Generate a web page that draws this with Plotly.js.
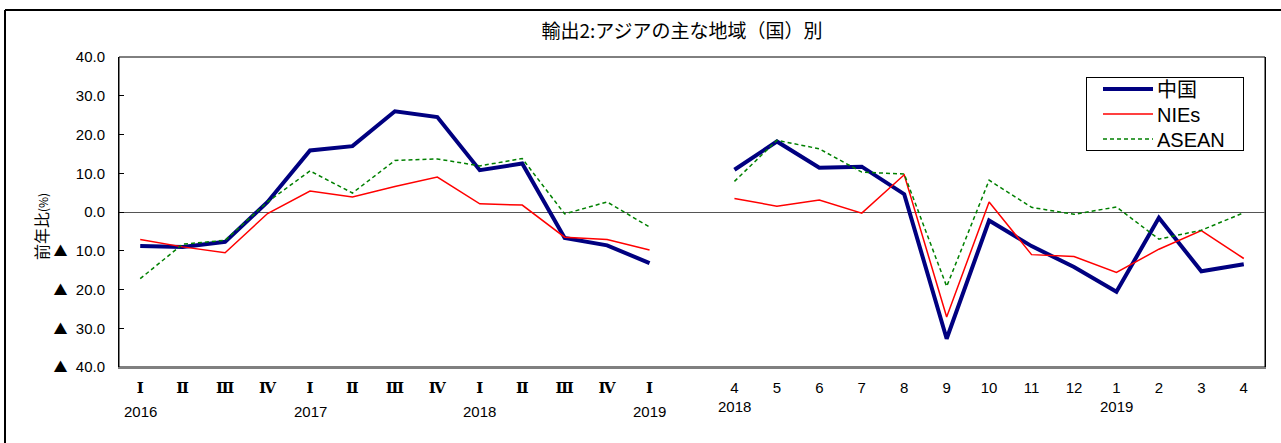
<!DOCTYPE html>
<html>
<head>
<meta charset="utf-8">
<script src="https://cdn.plot.ly/plotly-3.0.1.min.js"></script>
<style>html,body{margin:0;padding:0;background:#fff;}#chart{width:1281px;height:443px;}</style>
</head>
<body>
<div id="chart"></div>
<script>
// ---- data ----
const quarterLabels = ['Ⅰ','Ⅱ','Ⅲ','Ⅳ','Ⅰ','Ⅱ','Ⅲ','Ⅳ','Ⅰ','Ⅱ','Ⅲ','Ⅳ','Ⅰ'];
const quarterYears = {0:'2016', 4:'2017', 8:'2018', 12:'2019'};
const monthLabels = ['4','5','6','7','8','9','10','11','12','1','2','3','4'];
const monthYears = {0:'2018', 9:'2019'};

const chinaQ = [-8.8, -9.0, -7.7, 2.6, 15.9, 17.0, 26.0, 24.5, 10.8, 12.5, -6.7, -8.6, -13.2];
const niesQ  = [-7.1, -9.0, -10.5, -0.4, 5.4, 3.9, 6.6, 9.0, 2.1, 1.8, -6.5, -7.1, -9.8];
const aseanQ = [-17.2, -8.3, -7.3, 2.6, 10.6, 4.9, 13.3, 13.7, 11.9, 13.8, -0.5, 2.6, -3.9];

const chinaM = [10.9, 18.2, 11.4, 11.7, 4.6, -32.7, -2.2, -8.8, -14.2, -20.6, -1.5, -15.3, -13.5];
const niesM  = [3.5, 1.5, 3.1, -0.3, 9.6, -27.1, 2.6, -11.0, -11.5, -15.6, -9.6, -4.8, -12.0];
const aseanM = [7.9, 18.5, 16.3, 10.3, 9.8, -19.2, 8.2, 1.2, -0.6, 1.3, -7.0, -4.7, -0.2];

const seriesNames = ['中国', 'NIEs', 'ASEAN'];
const yTickVals = [40, 30, 20, 10, 0, -10, -20, -30, -40];
const yTickNums = ['40.0', '30.0', '20.0', '10.0', '0.0', '10.0', '20.0', '30.0', '40.0'];
const negMark = '▲';

const titleText = '輸出2:アジアの主な地域（国）別';
const yTitleText = '前年比<span style="font-size:12px">(%)</span>';

// ---- build ----
const nQ = quarterLabels.length;
const gap = 1;
const xQ = quarterLabels.map((_, i) => i);
const xM = monthLabels.map((_, i) => nQ + gap + i);
const allX = xQ.concat([nQ]).concat(xM);
function join(q, m) { return q.concat([null]).concat(m); }

const tickVals = xQ.concat(xM);
const tickText = quarterLabels.map(t => '<span style="font-family:DejaVu Serif;font-weight:bold">' + t + '</span>').concat(monthLabels);
const yTickText = yTickVals.map((v, i) => v < 0
  ? '<span style="font-family:Noto Sans CJK JP;font-size:14px">' + negMark + '</span>\u00a0 ' + yTickNums[i]
  : yTickNums[i]);

const FONT = 'Liberation Sans, Arial, Noto Sans CJK JP, sans-serif';
const CJK = 'Noto Sans CJK JP, Liberation Sans, sans-serif';

const traces = [
  {x: allX, y: join(chinaQ, chinaM), name: seriesNames[0], type: 'scatter', mode: 'lines',
   line: {color: '#000080', width: 4}, connectgaps: false},
  {x: allX, y: join(niesQ, niesM), name: seriesNames[1], type: 'scatter', mode: 'lines',
   line: {color: '#ff0000', width: 1.5}, connectgaps: false},
  {x: allX, y: join(aseanQ, aseanM), name: seriesNames[2], type: 'scatter', mode: 'lines',
   line: {color: '#008000', width: 1.5, dash: '4px,3px'}, connectgaps: false}
];

const W = 1281, H = 443, L = 119, R = 16, T = 57, B = 76;
const pw = W - L - R, ph = H - T - B;
const px = v => (v - L) / pw;
const py = v => (H - B - v) / ph;

const annotations = [];
Object.keys(quarterYears).forEach(k => {
  annotations.push({x: xQ[+k], y: py(411), xref: 'x', yref: 'paper', text: quarterYears[k],
    showarrow: false, xanchor: 'center', yanchor: 'middle', font: {family: FONT, size: 15, color: '#000'}});
});
Object.keys(monthYears).forEach(k => {
  annotations.push({x: xM[+k], y: py(406), xref: 'x', yref: 'paper', text: monthYears[k],
    showarrow: false, xanchor: 'center', yanchor: 'middle', font: {family: FONT, size: 15, color: '#000'}});
});
annotations.push({x: px(41), y: py(227), xref: 'paper', yref: 'paper', text: yTitleText, textangle: -90,
  showarrow: false, xanchor: 'center', yanchor: 'middle', font: {family: CJK, size: 16, color: '#000'}});

const shapes = [
  {type: 'rect', xref: 'paper', yref: 'paper', x0: 0, x1: 1, y0: 0, y1: 1, line: {color: '#000', width: 1}, layer: 'below'},
  {type: 'line', xref: 'paper', yref: 'paper', x0: px(5), x1: px(1281), y0: py(10), y1: py(10), line: {color: '#000', width: 2}},
  {type: 'line', xref: 'paper', yref: 'paper', x0: px(5), x1: px(5), y0: py(10), y1: py(445), line: {color: '#000', width: 2}}
];

const layout = {
  width: W, height: H,
  margin: {l: L, r: R, t: T, b: B, pad: 0},
  paper_bgcolor: '#fff', plot_bgcolor: '#fff',
  font: {family: FONT, size: 15, color: '#000'},
  title: {text: titleText, x: px(682), xref: 'paper', xanchor: 'center', y: 1 - 31 / H, yanchor: 'middle',
          font: {family: CJK, size: 19, color: '#000'}},
  showlegend: true,
  legend: {x: px(1086), y: py(77), xanchor: 'left', yanchor: 'top', bgcolor: '#fff',
           bordercolor: '#000', borderwidth: 1, font: {family: FONT, size: 20, color: '#000'},
           itemwidth: 60, tracegroupgap: 0},
  xaxis: {range: [-0.5, allX.length - 0.5], tickmode: 'array', tickvals: tickVals, ticktext: tickText,
          showgrid: false, zeroline: false, showline: true, linecolor: '#808080', linewidth: 2,
          ticks: '', ticklabelstandoff: 6, tickfont: {family: FONT, size: 15, color: '#000'}, fixedrange: true},
  yaxis: {range: [-40, 40], tickmode: 'array', tickvals: yTickVals, ticktext: yTickText,
          showgrid: false, zeroline: true, zerolinecolor: '#555', zerolinewidth: 1,
          showline: true, linecolor: '#000', linewidth: 1, mirror: true,
          ticks: 'inside', ticklen: 5, tickcolor: '#000', ticklabelstandoff: 10,
          tickfont: {family: FONT, size: 15, color: '#000'}, fixedrange: true},
  annotations: annotations,
  shapes: shapes
};

Plotly.newPlot('chart', traces, layout, {displayModeBar: false, staticPlot: true}).then(gd => {
  // tighten legend rows and set the sample line length to match the reference box
  const leg = gd.querySelector('.legend');
  if (!leg) return;
  leg.querySelectorAll('.traces').forEach((g, i) => {
    const m = /translate\(\s*([-\d.e]+)/.exec(g.getAttribute('transform') || '');
    const x = m ? parseFloat(m[1]) : 1;
    g.setAttribute('transform', 'translate(' + x + ',' + (12 + i * 25) + ')');
  });
  leg.querySelectorAll('.legendlines path').forEach(p => p.setAttribute('d', 'M16,0h50'));
  const bg = leg.querySelector('rect.bg');
  if (bg) { bg.setAttribute('height', 73); bg.setAttribute('width', 157); }
});
</script>
</body>
</html>
